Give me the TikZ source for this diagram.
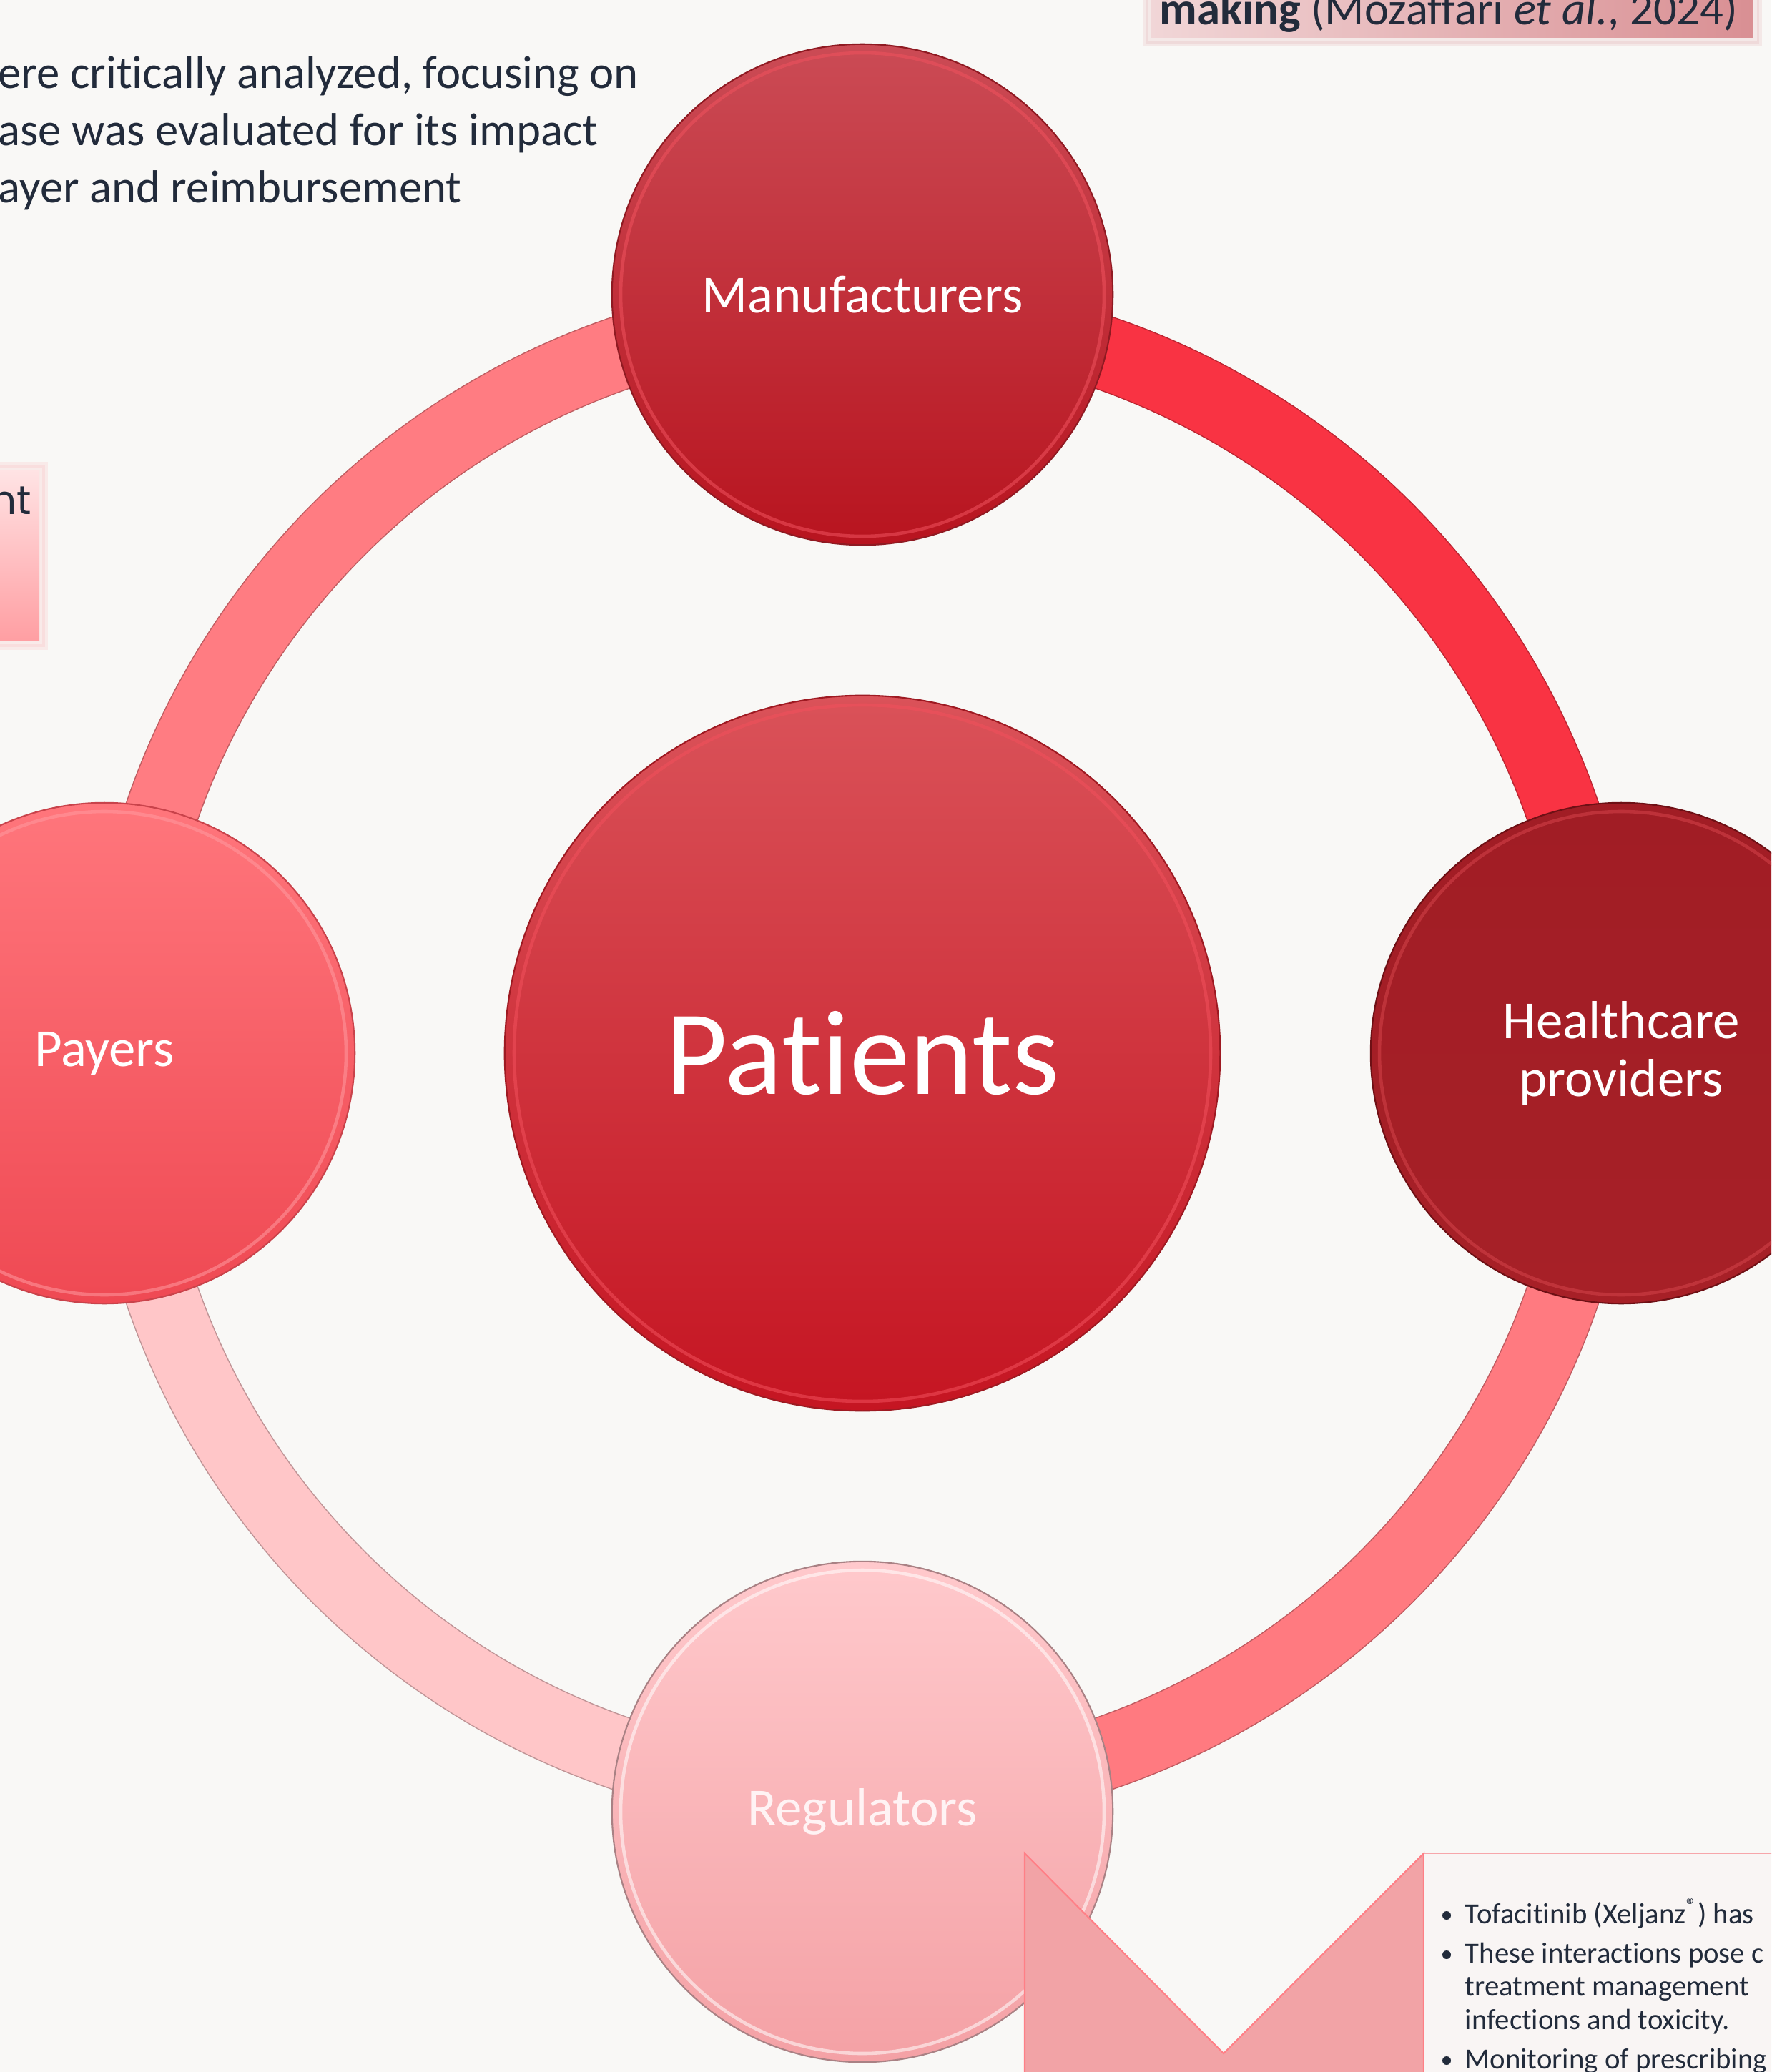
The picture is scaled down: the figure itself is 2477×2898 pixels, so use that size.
\documentclass[tikz,border=0pt]{standalone}
\usepackage{fontspec}
\setmainfont{Carlito}[Ligatures=NoCommon]
\newfontfamily\poppins{Poppins}
\usetikzlibrary{calc}

\definecolor{paper}{HTML}{F9F8F6}
\definecolor{ink}{HTML}{222B3B}
% ring pieces
\definecolor{ringA}{HTML}{F93343}
\definecolor{ringB}{HTML}{FF7A80}
\definecolor{ringC}{HTML}{FFC6C8}
\definecolor{ringD}{HTML}{FF7C82}
% discs
\definecolor{patT}{HTML}{DA5259}\definecolor{patM}{HTML}{DC2A37}\definecolor{patB}{HTML}{C51522}
\definecolor{patline}{HTML}{9E1A22}\definecolor{patrim}{HTML}{F2505C}
\definecolor{manT}{HTML}{CB4B55}\definecolor{manM}{HTML}{C5232F}\definecolor{manB}{HTML}{B8141F}
\definecolor{manline}{HTML}{8F1A22}\definecolor{manrim}{HTML}{F0525E}
\definecolor{hcpT}{HTML}{A11D25}\definecolor{hcpB}{HTML}{A72027}
\definecolor{hcpline}{HTML}{6E1015}\definecolor{hcprim}{HTML}{D4434A}
\definecolor{payT}{HTML}{FF767C}\definecolor{payM}{HTML}{FF5A63}\definecolor{payB}{HTML}{EF4953}
\definecolor{payline}{HTML}{C9434B}\definecolor{payrim}{HTML}{FF9AA0}
\definecolor{regT}{HTML}{FFC9CC}\definecolor{regM}{HTML}{FFB8BC}\definecolor{regB}{HTML}{F4A1A5}
\definecolor{regline}{HTML}{A98184}\definecolor{regtext}{HTML}{FFF3F4}
% boxes
\definecolor{capL}{HTML}{F1D6D7}\definecolor{capR}{HTML}{D98F93}
\definecolor{tagT}{HTML}{FFE3E4}\definecolor{tagB}{HTML}{FF9EA2}
\definecolor{tabpink}{HTML}{F2A3A6}\definecolor{tabedge}{HTML}{FF7F86}
\definecolor{notebg}{HTML}{F9F5F4}\definecolor{notetop}{HTML}{F7A6AA}

\newcommand{\actor}[4]{\node(#1)[actor, #3] at (#2) {#4}}
\newcommand{\arcpiece}[3]{\path[#3] ($(hub)+(#1:1087)$) arc[start angle=#1, end angle=#2, radius=1087]
  -- ($(hub)+(#2:985)$) arc[start angle=#2, end angle=#1, radius=985] -- cycle}

\begin{document}
\begin{tikzpicture}[x=0.01cm, y=-0.01cm,
    every node/.style={font=\fontsize{21.3pt}{23.3pt}\selectfont},
    actor/.style={circle, line width=0.6pt, minimum size=7cm, inner sep=0pt,
                  text=white, align=center},
    rim/.style={draw=#1, line width=1.3pt, opacity=0.55},
    band/.style={fill=#1, draw=#1!75!black, line width=0.4pt},
    glow/.style={draw=#1, opacity=0.15, line width=2pt},
    prose/.style={text=ink, inner sep=0pt, align=left,
                  font=\fontsize{18.4pt}{22.8pt}\selectfont},
    note/.style={text=ink, inner sep=0pt, align=left,
                 font=\fontsize{11.6pt}{13.2pt}\selectfont},
    dot/.style={circle, fill=ink, minimum size=0.12cm, inner sep=0pt},
    patfill/.style={top color=patT, middle color=patM, bottom color=patB, draw=patline},
    manfill/.style={top color=manT, middle color=manM, bottom color=manB, draw=manline},
    hcpfill/.style={top color=hcpT, bottom color=hcpB, draw=hcpline},
    payfill/.style={top color=payT, middle color=payM, bottom color=payB, draw=payline},
    regfill/.style={top color=regT, middle color=regM, bottom color=regB, draw=regline}
  ]
  \useasboundingbox (0,0) rectangle (2477,2898);
  \clip (0,0) rectangle (2477,2898);
  \fill[paper] (0,0) rectangle (2477,2898);

  % text around the edges
  \shade[left color=capL, right color=capR] (1609,-20) rectangle (2452,53);
  \draw[glow=capR] (1605,-20) rectangle (2456,57);
  \draw[glow=capR] (1601,-20) rectangle (2460,61);
  \node(cite)[prose, anchor=base west] at (1621,35)
    {\textbf{making} (Mozaffari \textit{et al.}, 2024)};
  % multi-line nodes sit on the baseline of their last line
  \node(intro)[prose, anchor=base west] at (-3,284)
    {ere critically analyzed, focusing on\\ase was evaluated for its impact\\ayer and reimbursement};
  \shade[top color=tagT, bottom color=tagB] (-20,658) rectangle (55,897);
  \draw[glow=tagB] (-20,654) rectangle (59,901);
  \draw[glow=tagB] (-20,650) rectangle (63,905);
  \node(tag)[anchor=base east, text=ink, inner sep=0pt,
             font=\poppins\fontsize{16pt}{18pt}\selectfont] at (45,720) {nt};

  % ring
  \coordinate (hub) at (1206,1473);
  \arcpiece{270}{360}{band=ringA};
  \arcpiece{0}{90}{band=ringB};
  \arcpiece{90}{180}{band=ringC};
  \arcpiece{180}{270}{band=ringD};

  % stakeholders
  \actor{man}{1206,412}{manfill}{Manufacturers};
  \actor{hcp}{2267,1473}{hcpfill}{Healthcare\\providers};
  \actor{pay}{146,1473}{payfill}{Payers};
  \actor{reg}{1206,2534}{regfill, text=regtext}{Regulators};
  \actor{pat}{1206,1473}{patfill, minimum size=10cm,
                         font=\fontsize{48pt}{50pt}\selectfont}{Patients};
  \foreach \n/\c/\r in {man/manrim/338, hcp/hcprim/338, pay/payrim/338,
                        reg/white/338, pat/patrim/487}
    \draw[rim=\c] (\n.center) circle[radius=\r];

  % callout
  \path[fill=tabpink, draw=tabedge, line width=0.6pt]
    (1433,2950) -- (1433,2592) -- (1711,2872) -- (1991,2592) -- (1991,2950);
  \fill[notebg] (1991,2592) rectangle (2500,2950);
  \draw[notetop, line width=0.8pt] (1991,2592) -- (2500,2592);
  \node(d1)[dot] at (2023,2679) {};
  \node(n1)[note, anchor=base west] at (2048,2690)
    {Tofacitinib (Xeljanz\textsuperscript{\textregistered}) has};
  \node(d2)[dot] at (2023,2734) {};
  \node(n2)[note, anchor=base west] at (2048,2838)
    {These interactions pose c\\treatment management\\infections and toxicity.};
  \node(d3)[dot] at (2023,2882) {};
  \node(n3)[note, anchor=base west] at (2048,2893) {Monitoring of prescribing};
\end{tikzpicture}
\end{document}
